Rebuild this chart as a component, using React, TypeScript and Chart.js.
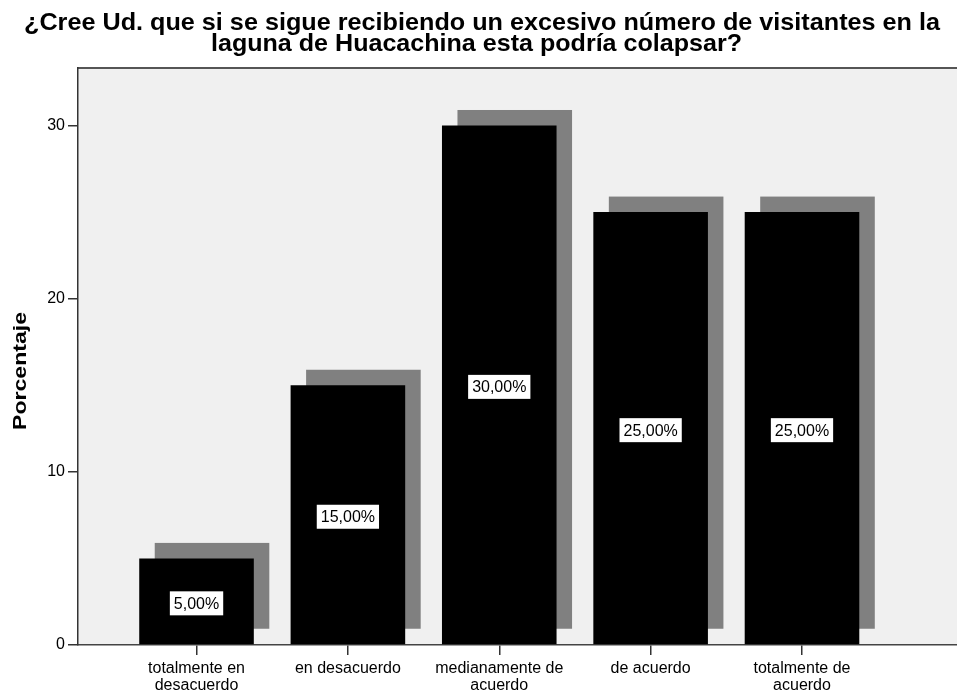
import React, { useEffect, useRef } from "react";
import { Chart, registerables } from "chart.js";

Chart.register(...registerables);

const categories: string[][] = [
  ["totalmente en", "desacuerdo"],
  ["en desacuerdo"],
  ["medianamente de", "acuerdo"],
  ["de acuerdo"],
  ["totalmente de", "acuerdo"],
];
const percentages: number[] = [5, 15, 30, 25, 25];
const yTicks: number[] = [0, 10, 20, 30];
const titleLines: string[] = [
  "¿Cree Ud. que si se sigue recibiendo un excesivo número de visitantes en la",
  "laguna de Huacachina esta podría colapsar?",
];
const yAxisTitle = "Porcentaje";

const FONT = "Arial, 'Liberation Sans', Helvetica, sans-serif";
const SHADOW = 15.5;

// title line placement: [centerX, baselineY, targetWidth]
const TITLE_LAYOUT: number[][] = [
  [482, 30, 916],
  [476.5, 51, 531],
];

const decoPlugin = {
  id: "deco",
  beforeDraw(chart: any) {
    const { ctx, chartArea: a } = chart;
    ctx.save();
    ctx.fillStyle = "#f0f0f0";
    ctx.fillRect(a.left, a.top, a.right - a.left, a.bottom - a.top);
    ctx.strokeStyle = "#555555";
    ctx.lineWidth = 2;
    ctx.beginPath();
    ctx.moveTo(a.left, a.top);
    ctx.lineTo(a.right, a.top);
    ctx.stroke();
    ctx.restore();
  },
  beforeDatasetsDraw(chart: any) {
    const { ctx } = chart;
    const meta = chart.getDatasetMeta(0);
    ctx.save();
    ctx.fillStyle = "#808080";
    meta.data.forEach((bar: any) => {
      const p = bar.getProps(["x", "y", "base", "width"], true);
      const left = p.x - p.width / 2 + SHADOW;
      const top = p.y - SHADOW;
      const bottom = p.base - SHADOW;
      ctx.fillRect(left, top, p.width, bottom - top);
    });
    ctx.restore();
  },
  afterDatasetsDraw(chart: any) {
    const { ctx } = chart;
    const meta = chart.getDatasetMeta(0);
    ctx.save();
    ctx.font = `16px ${FONT}`;
    ctx.textAlign = "center";
    ctx.textBaseline = "middle";
    meta.data.forEach((bar: any, i: number) => {
      const p = bar.getProps(["x", "y", "base"], true);
      const txt = percentages[i].toFixed(2).replace(".", ",") + "%";
      const w = ctx.measureText(txt).width + 8;
      const h = 24;
      const cy = (p.y + p.base) / 2 + 2;
      ctx.fillStyle = "#ffffff";
      ctx.fillRect(p.x - w / 2, cy - h / 2, w, h);
      ctx.fillStyle = "#000000";
      ctx.fillText(txt, p.x, cy + 1);
    });
    ctx.restore();
  },
  afterDraw(chart: any) {
    const { ctx } = chart;
    ctx.save();
    ctx.font = `bold 18px ${FONT}`;
    const tw = ctx.measureText(yAxisTitle).width;
    ctx.translate(21, 371);
    ctx.rotate(-Math.PI / 2);
    ctx.scale(118 / tw, 1);
    ctx.textAlign = "center";
    ctx.textBaseline = "middle";
    ctx.fillStyle = "#000000";
    ctx.fillText(yAxisTitle, 0, 0);
    ctx.restore();

    titleLines.forEach((line, i) => {
      const [cx, by, target] = TITLE_LAYOUT[i];
      ctx.save();
      ctx.font = `bold 24px ${FONT}`;
      const w = ctx.measureText(line).width;
      ctx.translate(cx, by);
      ctx.scale(target / w, 1);
      ctx.textAlign = "center";
      ctx.textBaseline = "alphabetic";
      ctx.fillStyle = "#000000";
      ctx.fillText(line, 0, 0);
      ctx.restore();
    });
  },
};

export default function App() {
  const ref = useRef<HTMLCanvasElement | null>(null);
  useEffect(() => {
    if (!ref.current) return;
    const chart = new Chart(ref.current, {
      type: "bar",
      data: {
        datasets: [
          {
            data: percentages.map((v, i) => ({ x: i, y: v })),
            backgroundColor: "#000000",
            borderWidth: 0,
            barPercentage: 0.757,
            categoryPercentage: 1,
          },
        ],
      },
      options: {
        animation: false,
        responsive: false,
        layout: { padding: { left: 0, right: 0, top: 68, bottom: 0 } },
        plugins: {
          legend: { display: false },
          tooltip: { enabled: false },
          title: { display: false },
        },
        scales: {
          x: {
            type: "linear",
            offset: false,
            min: -0.783,
            max: 5.024,
            afterBuildTicks: (scale: any) => {
              scale.ticks = categories.map((_, i) => ({ value: i }));
            },
            afterFit: (scale: any) => {
              scale.height = 47;
            },
            ticks: {
              autoSkip: false,
              maxRotation: 0,
              minRotation: 0,
              padding: 5,
              color: "#000000",
              font: { family: FONT, size: 16, lineHeight: 1.05 },
              callback: (v: any) => categories[Math.round(Number(v))] ?? "",
            },
            grid: {
              display: true,
              offset: false,
              drawOnChartArea: false,
              drawTicks: true,
              tickLength: 10,
              color: "#333333",
              lineWidth: 1.5,
            },
            border: { display: true, color: "#444444", width: 1.5 },
          },
          y: {
            type: "linear",
            min: 0,
            max: 33.32,
            afterBuildTicks: (scale: any) => {
              scale.ticks = yTicks.map((v) => ({ value: v }));
            },
            afterFit: (scale: any) => {
              scale.width = 78;
            },
            ticks: {
              padding: 3,
              color: "#000000",
              font: { family: FONT, size: 16 },
              callback: (v: any) => String(v),
            },
            grid: {
              display: true,
              drawOnChartArea: false,
              drawTicks: true,
              tickLength: 10,
              color: "#333333",
              lineWidth: 1.5,
            },
            border: { display: true, color: "#333333", width: 1.5 },
          },
        },
      },
      plugins: [decoPlugin],
    } as any);
    return () => chart.destroy();
  }, []);
  return (
    <div style={{ position: "fixed", left: 0, top: 0, width: 957, height: 692, background: "#ffffff" }}>
      <canvas ref={ref} width={957} height={692} style={{ display: "block" }} />
    </div>
  );
}
